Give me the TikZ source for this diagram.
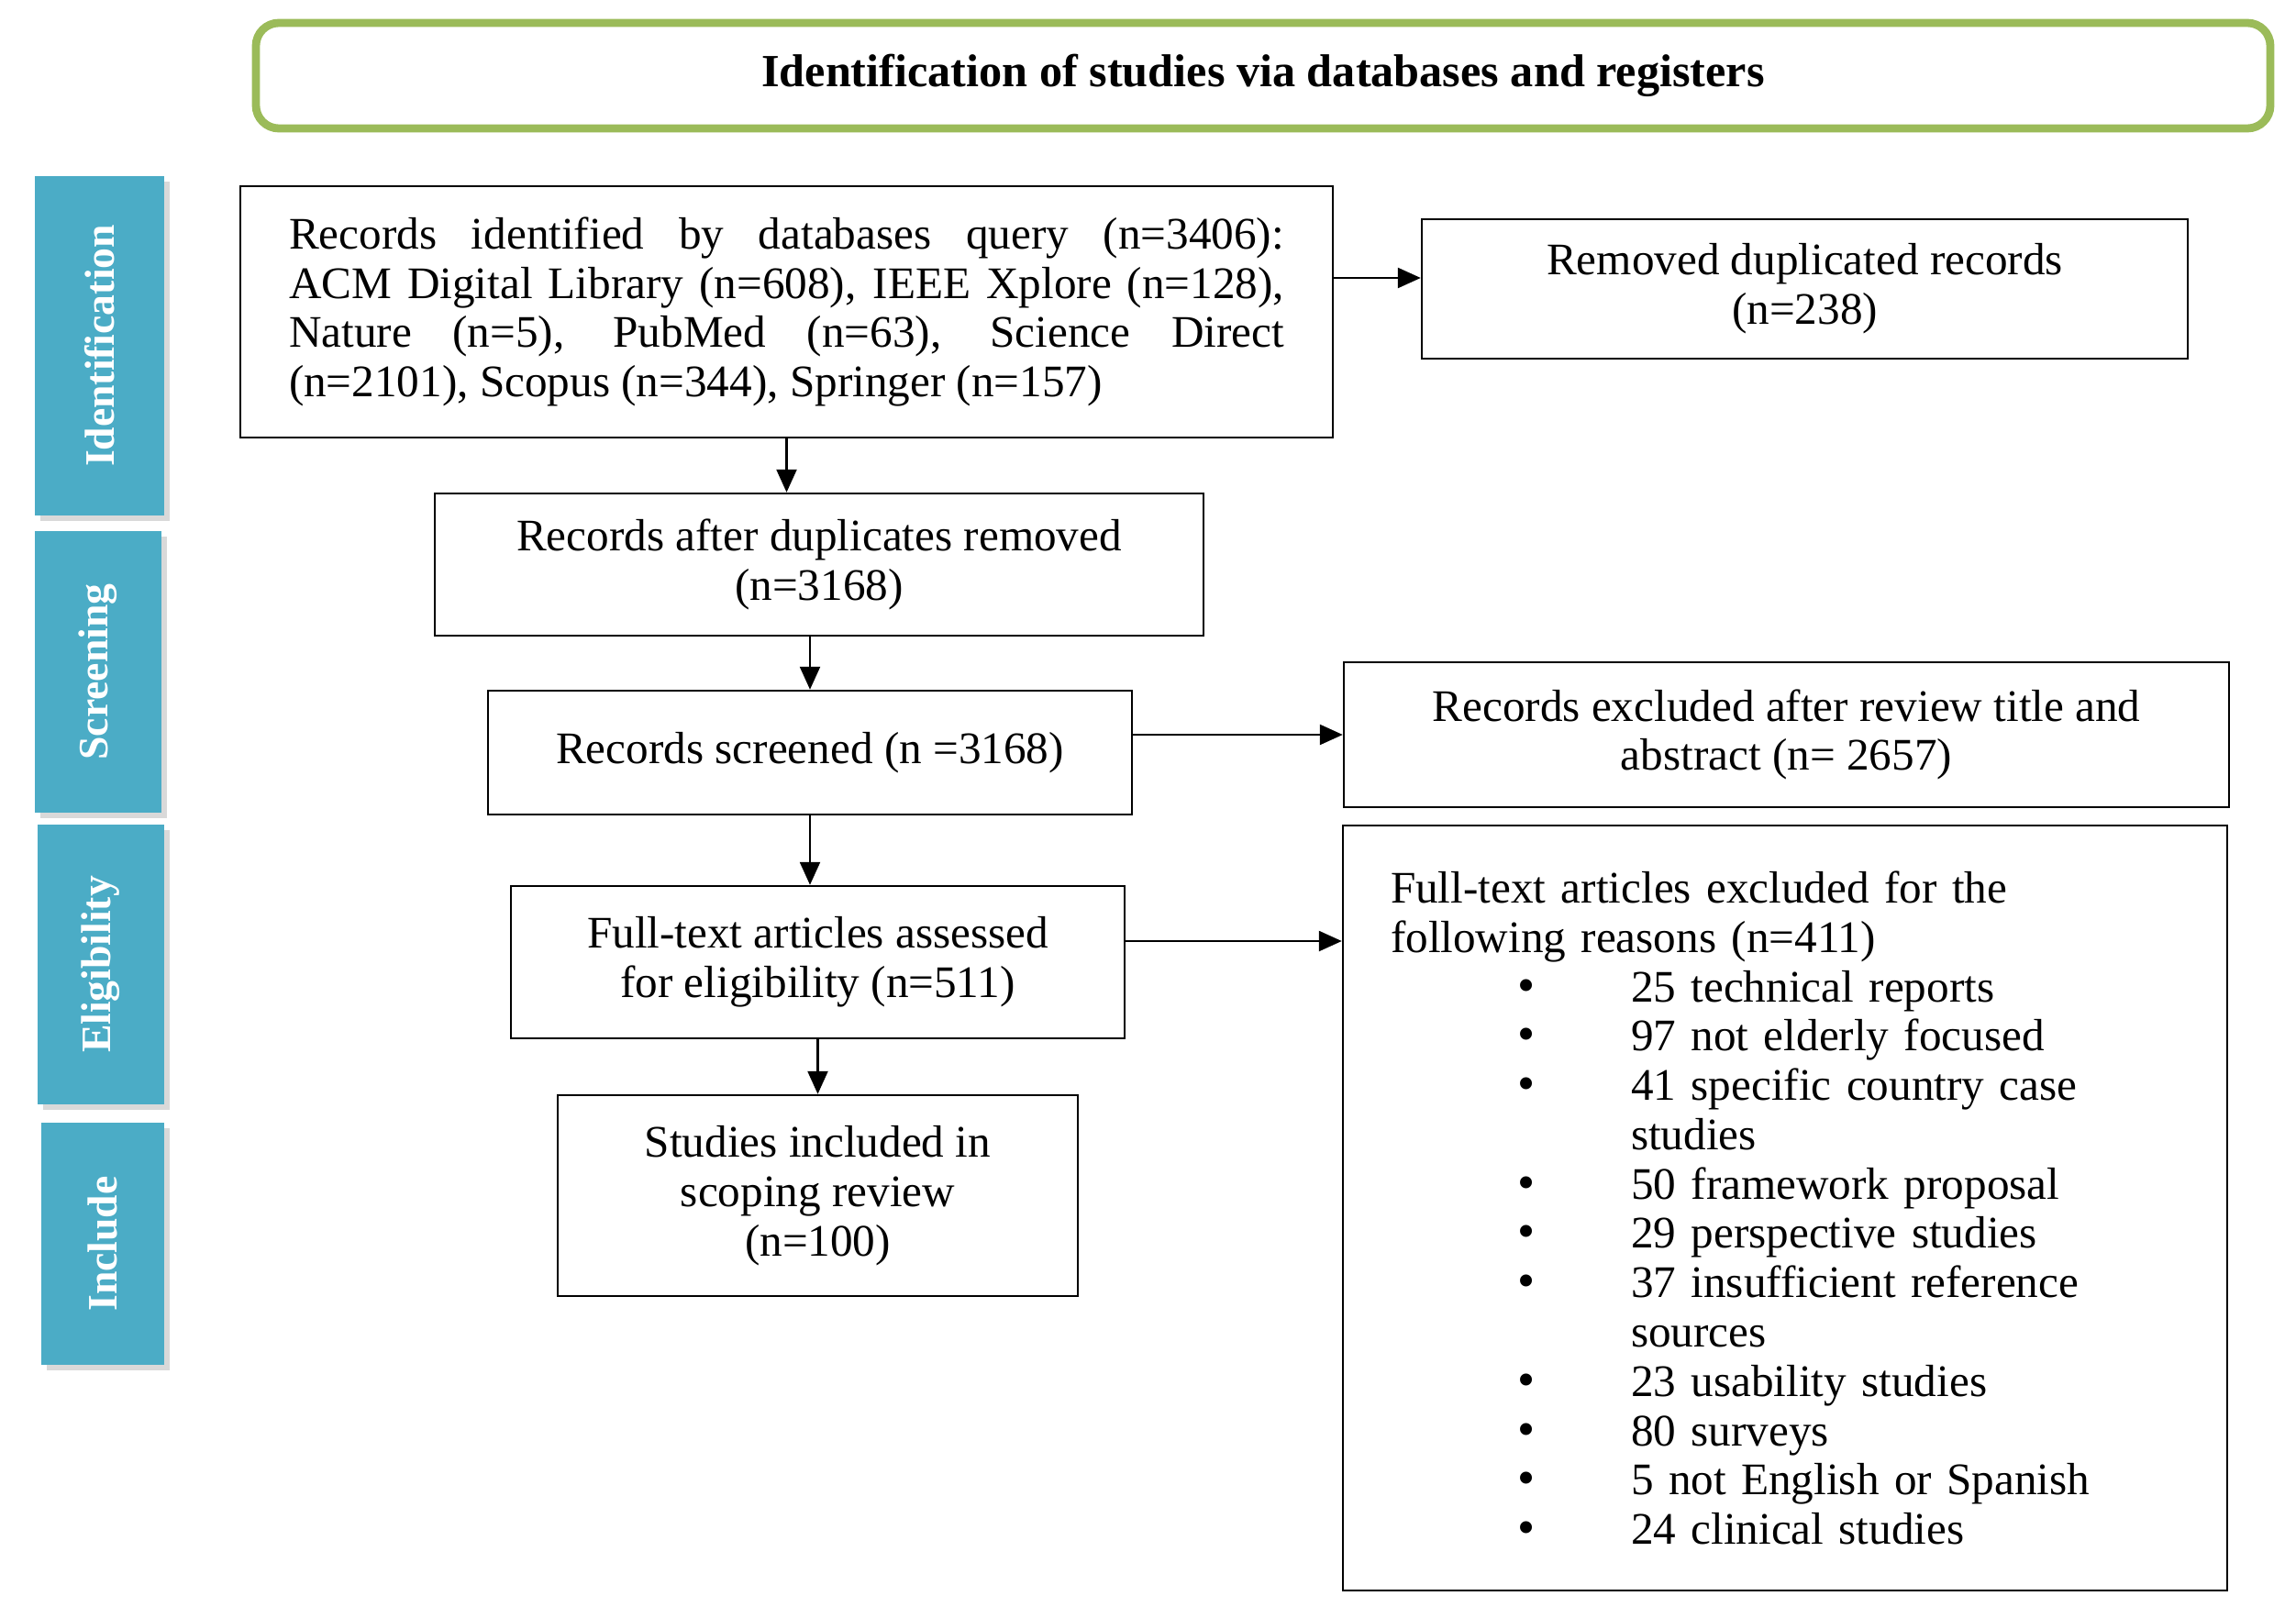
\documentclass[tikz,border=0pt]{standalone}
\usepackage{fontspec}
\setmainfont{Liberation Serif}
\usetikzlibrary{arrows.meta,shadows}
\definecolor{tabblue}{RGB}{75,172,198}
\definecolor{headgreen}{RGB}{155,187,89}
\newcommand{\reason}[1]{\hspace*{1.38cm}\makebox[1.24cm][l]{\fontsize{15.5}{15.3}\selectfont\textbullet}#1}
\newcommand{\reasonmore}[1]{\hspace*{2.62cm}#1}
\begin{document}
\begin{tikzpicture}[line width=0.7pt,>={Triangle[length=0.25cm,width=0.22cm]},
  box/.style={draw,rectangle,align=center,font=\fontsize{14}{15.3}\selectfont},
  tab/.style={fill=tabblue,text=white,rotate=90,inner sep=0pt,font=\fontsize{13}{14}\selectfont\bfseries,
    drop shadow={opacity=0.3,shadow xshift=0.06cm,shadow yshift=-0.06cm}}]
\useasboundingbox (0,0) rectangle (25.03,-17.64);
\node[draw=headgreen,line width=2.5pt,rounded corners=0.25cm,minimum width=21.96cm,minimum height=1.15cm,
  font=\fontsize{14.3}{16}\selectfont\bfseries] (head) at (13.77,-0.825) {Identification of studies via databases and registers};
% phase tabs
\node[tab,minimum width=3.70cm,minimum height=1.41cm] (ident) at (1.085,-3.77) {Identification};
\node[tab,minimum width=3.07cm,minimum height=1.38cm] (screen) at (1.07,-7.325) {Screening};
\node[tab,minimum width=3.05cm,minimum height=1.38cm] (elig) at (1.10,-10.515) {Eligibility};
\node[tab,minimum width=2.64cm,minimum height=1.34cm] (incl) at (1.12,-13.56) {Include};
% left column
\node[box,text width=10.85cm,align=justify,inner xsep=0.53cm,minimum height=2.74cm] (query) at (8.575,-3.40)
  {Records identified by databases query (n=3406):\linebreak ACM Digital Library (n=608), IEEE Xplore (n=128),\linebreak
   Nature (n=5), PubMed (n=63), Science Direct\linebreak (n=2101), Scopus (n=344), Springer (n=157)};
\node[box,minimum width=8.38cm,minimum height=1.55cm] (afterdup) at (8.93,-6.155) {Records after duplicates removed\\(n=3168)};
\node[box,minimum width=7.02cm,minimum height=1.35cm] (screened) at (8.83,-8.205) {Records screened (n =3168)};
\node[box,minimum width=6.69cm,minimum height=1.66cm] (assessed) at (8.915,-10.49) {Full-text articles assessed\\for eligibility (n=511)};
\node[box,minimum width=5.67cm,minimum height=2.19cm] (included) at (8.915,-13.035) {Studies included in\\scoping review\\(n=100)};
% right column
\node[box,minimum width=8.35cm,minimum height=1.52cm] (dup) at (19.675,-3.15) {Removed duplicated records\\(n=238)};
\node[box,minimum width=9.65cm,minimum height=1.58cm] (excluded) at (19.475,-8.01) {Records excluded after review title and\\abstract (n= 2657)};
\node[box,align=left,text width=8.6cm,inner xsep=0.52cm,minimum height=8.34cm] (ftexcl) at (19.46,-13.17)
  {Full-text articles excluded for the\\following reasons (n=411)\\
   \reason{25 technical reports}\\ \reason{97 not elderly focused}\\ \reason{41 specific country case}\\ \reasonmore{studies}\\
   \reason{50 framework proposal}\\ \reason{29 perspective studies}\\ \reason{37 insufficient reference}\\ \reasonmore{sources}\\
   \reason{23 usability studies}\\ \reason{80 surveys}\\ \reason{5 not English or Spanish}\\ \reason{24 clinical studies}};
% connectors
\draw[->] ([yshift=0.12cm]query.east |- dup.west) -- ([yshift=0.12cm]dup.west);
\draw[->] (query.south) -- (query.south |- afterdup.north);
\draw[->] (screened.north |- afterdup.south) -- (screened.north);
\draw[->] (screened.south) -- (screened.south |- assessed.north);
\draw[->] (assessed.south) -- (assessed.south |- included.north);
\draw[->] (screened.east |- excluded.west) -- (excluded.west);
\draw[->] ([yshift=0.23cm]assessed.east) -- ([yshift=0.23cm]assessed.east -| ftexcl.west);
\end{tikzpicture}
\end{document}
